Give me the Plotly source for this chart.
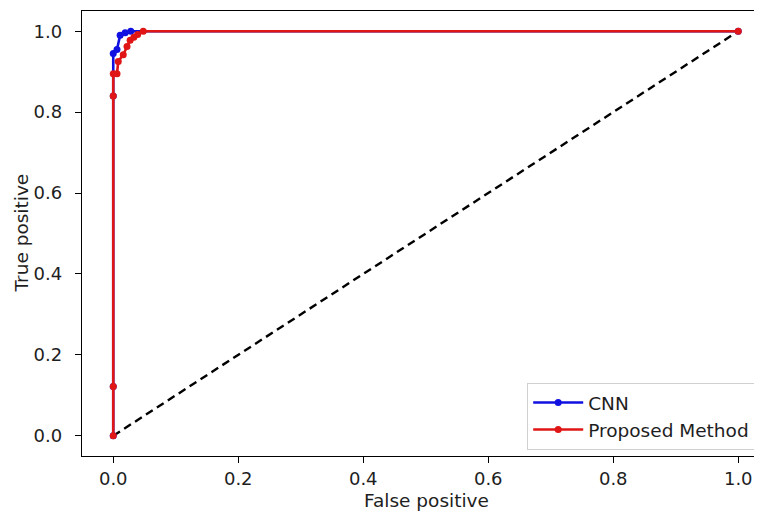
import plotly.graph_objects as go

# ROC data
cnn_fpr = [0.0, 0.0, 0.0, 0.0, 0.006, 0.011, 0.019, 0.028, 1.0]
cnn_tpr = [0.0, 0.122, 0.84, 0.945, 0.955, 0.99, 0.996, 1.0, 1.0]

prop_fpr = [0.0, 0.0, 0.0, 0.0, 0.006, 0.008, 0.016, 0.022, 0.027, 0.033, 0.039, 0.048, 1.0]
prop_tpr = [0.0, 0.122, 0.84, 0.895, 0.895, 0.925, 0.942, 0.962, 0.978, 0.985, 0.992, 1.0, 1.0]

chance_x = [0.0, 1.0]
chance_y = [0.0, 1.0]

x_ticks = [0.0, 0.2, 0.4, 0.6, 0.8, 1.0]
y_ticks = [0.0, 0.2, 0.4, 0.6, 0.8, 1.0]

x_title = "False positive"
y_title = "True positive"

FONT = "DejaVu Sans"
TXT = "#1e1e1e"

fig = go.Figure()
fig.add_trace(go.Scatter(x=chance_x, y=chance_y, mode="lines",
                         line=dict(color="black", width=2.4, dash="8px,5px"),
                         showlegend=False, hoverinfo="skip"))
fig.add_trace(go.Scatter(x=cnn_fpr, y=cnn_tpr, mode="lines+markers", name="CNN",
                         line=dict(color="#1010e0", width=2.6),
                         marker=dict(color="#1010e0", size=7)))
fig.add_trace(go.Scatter(x=prop_fpr, y=prop_tpr, mode="lines+markers", name="Proposed Method",
                         line=dict(color="#e01515", width=2.6),
                         marker=dict(color="#e01515", size=7)))

axis_common = dict(showgrid=False, zeroline=False, showline=True, linecolor="black",
                   linewidth=1.3, ticks="outside", ticklen=6, tickwidth=1.3, tickcolor="black",
                   tickfont=dict(family=FONT, size=18, color=TXT),
                   tickformat=".1f", automargin=False)

fig.update_xaxes(range=[-0.05, 1.038], tickvals=x_ticks, mirror=True, ticklabelstandoff=0,
                 **axis_common)
fig.update_yaxes(range=[-0.05, 1.05], tickvals=y_ticks, mirror=False, ticklabelstandoff=9,
                 **axis_common)

fig.add_annotation(text=x_title, xref="paper", yref="paper", x=0.5066, y=-0.099,
                   xanchor="center", yanchor="middle", showarrow=False,
                   font=dict(family=FONT, size=18.5, color=TXT))
fig.add_annotation(text=y_title, xref="paper", yref="paper", x=-0.0897, y=0.5,
                   xanchor="center", yanchor="middle", showarrow=False, textangle=-90,
                   font=dict(family=FONT, size=18.5, color=TXT))

fig.update_layout(
    width=754, height=503,
    margin=dict(l=74, r=0, t=3, b=55, autoexpand=False),
    plot_bgcolor="white", paper_bgcolor="white",
    font=dict(family=FONT, size=18, color=TXT),
    legend=dict(x=0.99, y=0.0135, xanchor="right", yanchor="bottom",
                bgcolor="white", bordercolor="#d0d0d0", borderwidth=1,
                font=dict(family=FONT, size=18.5, color=TXT),
                itemwidth=50, tracegroupgap=2),
)

fig.write_html("out.html")
